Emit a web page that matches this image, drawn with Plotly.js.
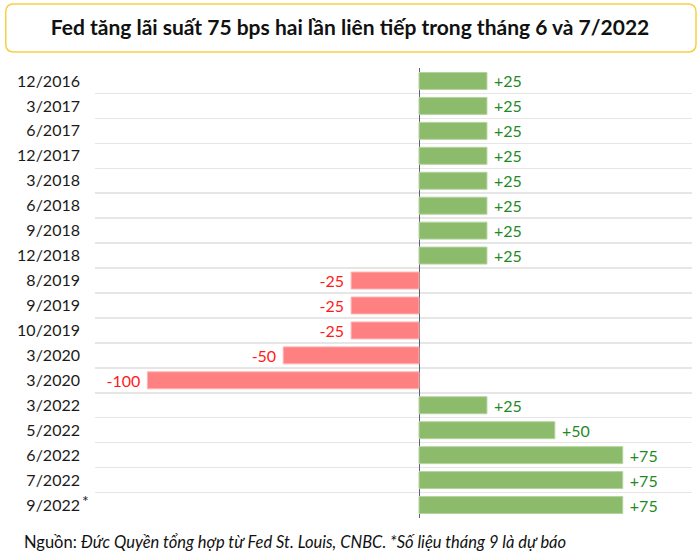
<!DOCTYPE html>
<html>
<head>
<meta charset="utf-8">
<script src="https://cdn.plot.ly/plotly-3.0.1.min.js"></script>
<style>
  body { margin: 0; background: #fff; }
  #plot { width: 700px; height: 560px; }
</style>
</head>
<body>
<div id="plot"></div>
<script>
// ky dieu chinh lai suat cua Fed (bps)
var labels = ['12/2016', '3/2017', '6/2017', '12/2017', '3/2018', '6/2018', '9/2018', '12/2018',
              '8/2019', '9/2019', '10/2019', '3/2020', '3/2020', '3/2022', '5/2022', '6/2022',
              '7/2022', '9/2022'];
var changes = [25, 25, 25, 25, 25, 25, 25, 25, -25, -25, -25, -50, -100, 25, 50, 75, 75, 75];
var positions = labels.map(function (d, i) { return i; });

var green = '#8cbb6b', red = '#ff8080';

trace = {
    x: changes,
    y: positions,
    type: 'bar',
    orientation: 'h',
    width: 0.68,
    // nbsp de nhan cach thanh them mot chut
    text: changes.map(function (v) { return v > 0 ? '\u00a0+' + v : v + '\u00a0'; }),
    textposition: 'outside',
    constraintext: 'none',
    cliponaxis: false,
    outsidetextfont: {
        family: 'Lato, sans-serif',
        size: 16,
        color: changes.map(function (v) { return v > 0 ? '#1f8a1f' : '#ff1a1a'; })
    },
    marker: {
        color: changes.map(function (v) { return v > 0 ? green : red; }),
        line: { color: changes.map(function (v) { return v > 0 ? '#b4d39e' : '#ffb3b3'; }), width: 1 }
    },
    hoverinfo: 'skip'
};

// khung tieu de bo goc (toa do paper)
var x0 = -0.1495, x1 = 1.0067, y0 = 1.0356, y1 = 1.1422, rx = 0.0134, ry = 0.0178;
var boxPath = 'M' + (x0 + rx) + ',' + y1 + ' L' + (x1 - rx) + ',' + y1 +
    ' Q' + x1 + ',' + y1 + ' ' + x1 + ',' + (y1 - ry) +
    ' L' + x1 + ',' + (y0 + ry) + ' Q' + x1 + ',' + y0 + ' ' + (x1 - rx) + ',' + y0 +
    ' L' + (x0 + rx) + ',' + y0 + ' Q' + x0 + ',' + y0 + ' ' + x0 + ',' + (y0 + ry) +
    ' L' + x0 + ',' + (y1 - ry) + ' Q' + x0 + ',' + y1 + ' ' + (x0 + rx) + ',' + y1 + ' Z';

layout = {
    width: 700,
    height: 560,
    margin: { l: 95, r: 8, t: 68, b: 42 },
    paper_bgcolor: '#fff',
    plot_bgcolor: '#fff',
    showlegend: false,
    font: { family: 'Lato, sans-serif', color: '#1a1a1a' },
    title: {
        text: 'Fed tăng lãi suất 75 bps hai lần liên tiếp trong tháng 6 và 7/2022',
        font: { family: 'Lato, sans-serif', size: 21, color: '#111', weight: 'bold' },
        x: 0.5, xref: 'container', xanchor: 'center',
        y: 0.95, yref: 'container', yanchor: 'middle'
    },
    xaxis: {
        range: [-119.3, 100.5],
        showticklabels: false,
        showgrid: false,
        zeroline: true,
        zerolinecolor: '#5b6275',
        zerolinewidth: 1,
        fixedrange: true
    },
    yaxis: {
        range: [17.52, -0.52],
        tickvals: positions,
        ticktext: labels,
        ticks: '',
        ticklabelstandoff: 14,
        tickfont: { family: 'Lato, sans-serif', size: 16, color: '#1a1a1a' },
        showgrid: false,
        zeroline: false,
        minor: { tick0: 0.5, dtick: 1, showgrid: true, gridcolor: '#e6e6e6', gridwidth: 1.5, ticks: '' },
        fixedrange: true
    },
    shapes: [{
        type: 'path',
        xref: 'paper', yref: 'paper',
        path: boxPath,
        line: { color: '#f7cf45', width: 1.5 },
        fillcolor: 'rgba(0,0,0,0)',
        layer: 'below'
    }],
    annotations: [{
        text: '*',
        xref: 'paper', yref: 'y',
        x: 0, y: positions[positions.length - 1],
        xanchor: 'left', yanchor: 'middle',
        xshift: -15, yshift: 5,
        showarrow: false,
        font: { family: 'Lato, sans-serif', size: 16, color: '#1a1a1a' }
    }, {
        text: 'Nguồn: <i>Đức Quyền tổng hợp từ Fed St. Louis, CNBC. *Số liệu tháng 9 là dự báo</i>',
        xref: 'paper', yref: 'paper',
        x: -0.1228, y: -0.0527,
        xanchor: 'left', yanchor: 'middle',
        showarrow: false,
        font: { family: 'Lato, sans-serif', size: 16.5, color: '#111' }
    }]
};

Plotly.newPlot('plot', [trace], layout, { displayModeBar: false, staticPlot: true });
</script>
</body>
</html>
